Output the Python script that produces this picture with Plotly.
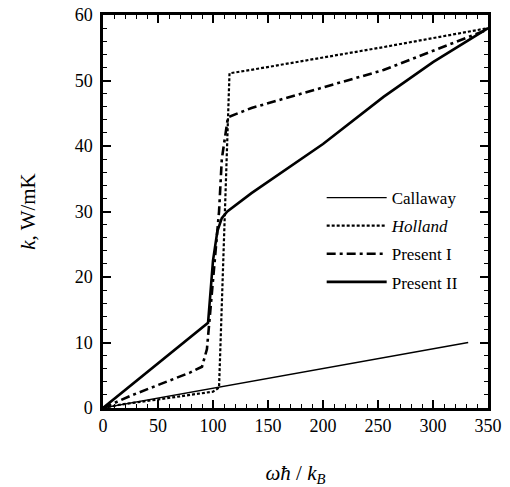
import plotly.graph_objects as go

# Thermal conductivity k (W/mK) vs. reduced frequency  omega*hbar/k_B
callaway_x = [0, 332]
callaway_y = [0, 10.0]

holland_x = [0, 15, 50, 100, 105.5, 115, 134, 255, 350]
holland_y = [0, 0.5, 1.3, 2.5, 3.1, 51.1, 51.6, 55.1, 58.0]

present1_x = [0, 27, 79, 90, 94.5, 96.5, 100, 103, 105.5, 108, 113.6, 135, 255, 350]
present1_y = [0, 2.0, 5.4, 6.3, 9.0, 13.0, 20.0, 25.6, 30.0, 38.0, 44.4, 45.8, 51.6, 57.8]

present2_x = [0, 95.5, 100, 104, 108, 113, 135, 200, 255, 300, 350]
present2_y = [0, 13.0, 22.5, 27.0, 29.0, 30.0, 32.8, 40.3, 47.5, 52.8, 58.0]

serif = "Liberation Serif, Times New Roman, serif"

fig = go.Figure()
fig.add_trace(go.Scatter(x=callaway_x, y=callaway_y, mode="lines", name="Callaway",
                         legendgroup="a",
                         line=dict(color="black", width=1.3)))
fig.add_trace(go.Scatter(x=holland_x, y=holland_y, mode="lines", name="<i>Holland</i>",
                         legendgroup="b",
                         line=dict(color="black", width=2.2, dash="3px,2px")))
fig.add_trace(go.Scatter(x=present1_x, y=present1_y, mode="lines", name="Present I",
                         legendgroup="c",
                         line=dict(color="black", width=2.6, dash="9px,4px,3px,4px")))
fig.add_trace(go.Scatter(x=present2_x, y=present2_y, mode="lines", name="Present II",
                         legendgroup="d",
                         line=dict(color="black", width=2.6)))

axis_common = dict(
    showgrid=False, zeroline=False, automargin=False,
    showline=True, linecolor="black", linewidth=2.5, mirror="ticks",
    ticks="inside", ticklen=8, tickwidth=1.5, tickcolor="black",
    tickfont=dict(family=serif, size=18, color="black"),
)

fig.update_xaxes(range=[0, 350], dtick=50, tick0=0,
                 minor=dict(dtick=10, ticks="inside", ticklen=4, tickcolor="black", tickwidth=1),
                 title=dict(text="<i>ωħ</i> / <i>k</i><sub><i>B</i></sub>",
                            font=dict(family=serif, size=21, color="black"), standoff=33),
                 **axis_common)
fig.update_yaxes(range=[0, 60], dtick=10, tick0=0,
                 minor=dict(dtick=2, ticks="inside", ticklen=4, tickcolor="black", tickwidth=1),
                 ticklabelstandoff=4,
                 title=dict(text="<i>k</i>, W/mK",
                            font=dict(family=serif, size=21, color="black"), standoff=34),
                 **axis_common)

fig.update_layout(
    width=510, height=487,
    margin=dict(l=103, r=22, t=15, b=79),
    plot_bgcolor="white", paper_bgcolor="white",
    showlegend=True,
    legend=dict(x=0.568, y=0.580, xanchor="left", yanchor="top",
                bgcolor="rgba(0,0,0,0)", borderwidth=0,
                traceorder="grouped", tracegroupgap=3, itemwidth=60,
                font=dict(family=serif, size=17, color="black")),
)

fig.write_html("out.html")
